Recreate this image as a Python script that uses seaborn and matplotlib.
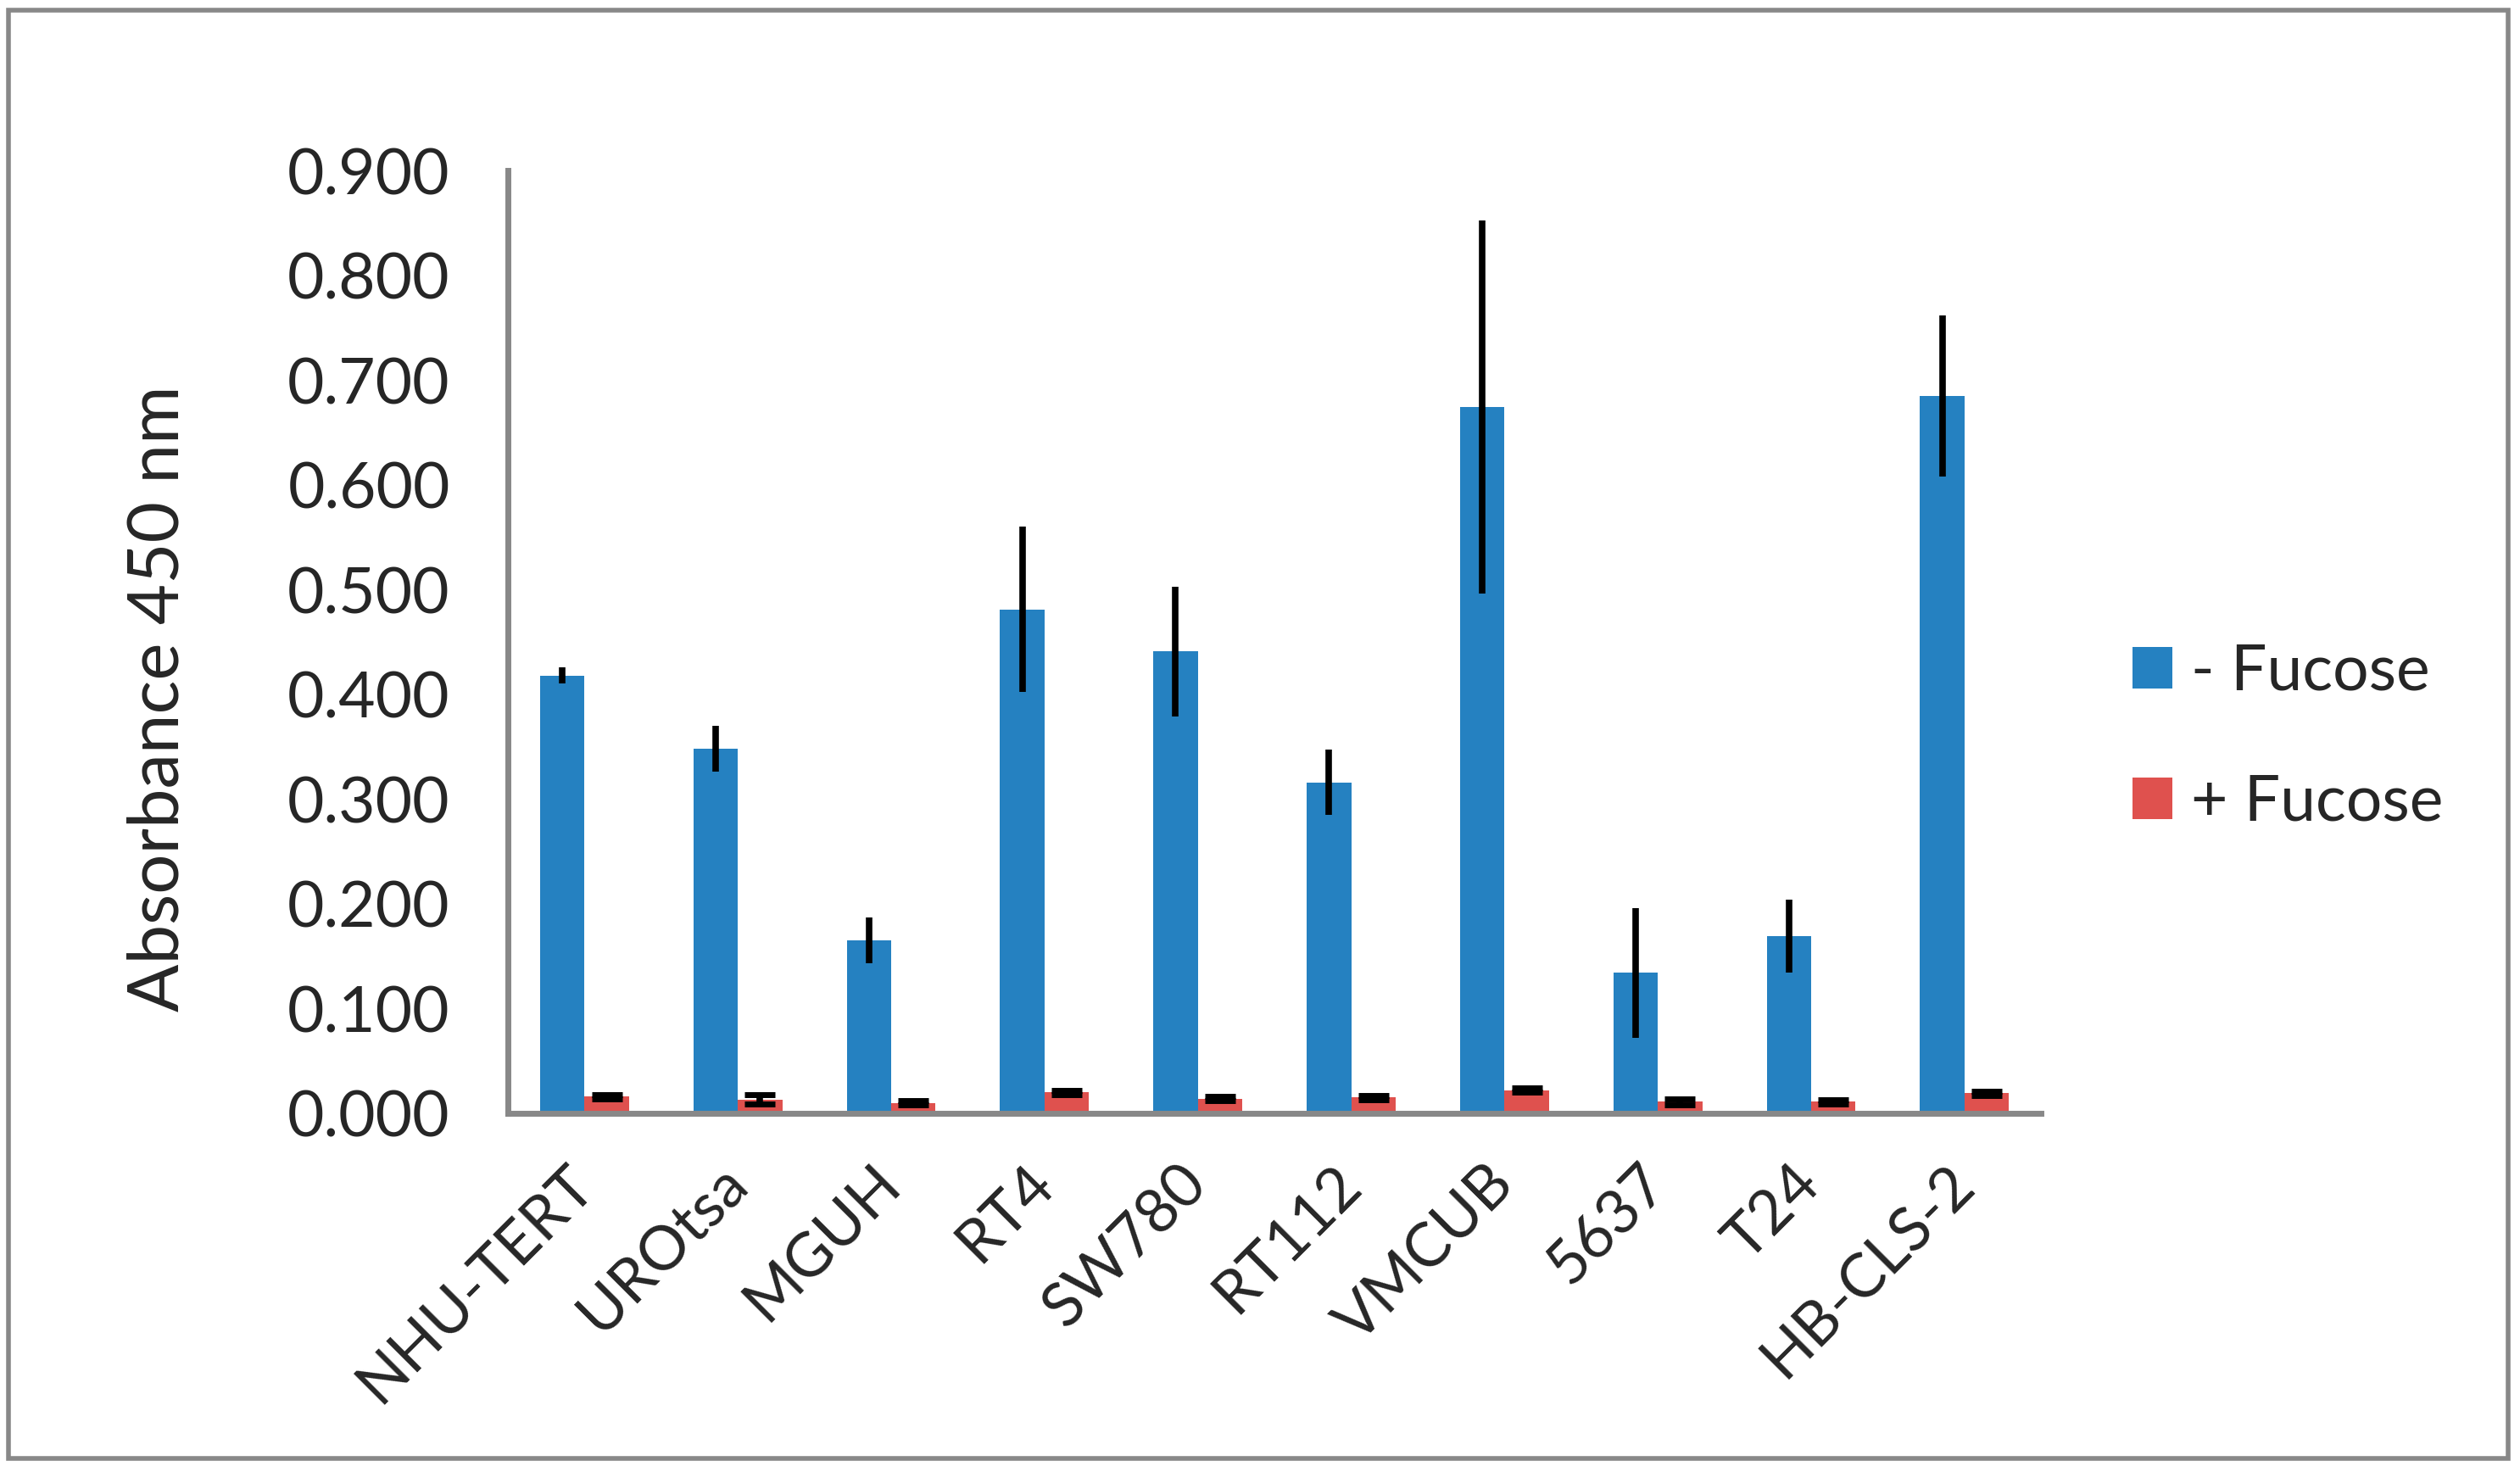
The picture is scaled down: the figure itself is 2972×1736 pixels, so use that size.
import matplotlib
matplotlib.use("Agg")
import matplotlib.pyplot as plt
import matplotlib.patches as mpatches
from matplotlib.container import BarContainer
import numpy as np
import pandas as pd
import seaborn as sns

# values
cells = ['NHU-TERT', 'UROtsa', 'MGUH', 'RT4', 'SW780',
         'RT112', 'VMCUB', '5637', 'T24', 'HB-CLS-2']
minus_fucose = [0.418, 0.348, 0.165, 0.481, 0.441, 0.316, 0.674, 0.134, 0.169, 0.685]
minus_fucose_err = [0.008, 0.022, 0.022, 0.079, 0.062, 0.031, 0.178, 0.062, 0.035, 0.077]
plus_fucose = [0.016, 0.013, 0.010, 0.020, 0.014, 0.015, 0.022, 0.011, 0.011, 0.019]
plus_fucose_err = [0.002, 0.0045, 0.002, 0.002, 0.002, 0.002, 0.002, 0.003, 0.002, 0.002]
conditions = ['- Fucose', '+ Fucose']
yticks = [0.0, 0.1, 0.2, 0.3, 0.4, 0.5, 0.6, 0.7, 0.8, 0.9]

blue = '#2581C1'
red = '#DF514E'
grey = '#888888'

sns.set_style('white')
plt.rcParams['font.family'] = ['Lato', 'DejaVu Sans']
FS = 54

df = pd.DataFrame({
    'cell': cells * 2,
    'value': minus_fucose + plus_fucose,
    'condition': [conditions[0]] * len(cells) + [conditions[1]] * len(cells),
})
errs = [minus_fucose_err, plus_fucose_err]

fig = plt.figure(figsize=(29.72, 17.36), dpi=100)
ax = fig.add_axes([0.2015, 0.2437, 0.6085, 0.6405])

sns.barplot(data=df, x='cell', y='value', hue='condition', order=cells,
            palette=[blue, red], width=0.58, saturation=1, errorbar=None,
            linewidth=0, ax=ax)

# error bars: plain lines on the blue bars, capped on the red ones
bar_sets = [c for c in ax.containers if isinstance(c, BarContainer)]
for i, container in enumerate(bar_sets):
    xs = [b.get_x() + b.get_width() / 2 for b in container]
    hs = [b.get_height() for b in container]
    ax.errorbar(xs, hs, yerr=errs[i], fmt='none', ecolor='black',
                elinewidth=5.5, capsize=(0 if i == 0 else 13), capthick=5,
                zorder=5)

ax.set_xlim(-0.5, len(cells) - 0.5)
ax.set_ylim(0, 0.9)
ax.set_yticks(yticks)
ax.set_yticklabels([f'{v:.3f}' for v in yticks], fontsize=FS)
ax.set_xticks(range(len(cells)))
ax.set_xticklabels(cells, fontsize=52, rotation=45, ha='right', va='center',
                   rotation_mode='anchor')
ax.set_xticks(np.arange(-0.5, len(cells)), minor=True)
ax.tick_params(axis='x', which='major', length=0, pad=52)
ax.tick_params(axis='x', which='minor', length=18, width=5, color=grey,
               direction='out')
ax.tick_params(axis='y', length=19, width=5, color=grey, direction='out',
               pad=30)

for s in ['top', 'right']:
    ax.spines[s].set_visible(False)
for s in ['left', 'bottom']:
    ax.spines[s].set_color(grey)
    ax.spines[s].set_linewidth(5)

ax.set_xlabel('')
ax.set_ylabel('Absorbance 450 nm', fontsize=60, labelpad=82, y=0.44)

handles, labels = ax.get_legend_handles_labels()
ax.legend(handles, labels, loc='upper left', frameon=False, fontsize=FS,
          bbox_to_anchor=(2515 / 2972, 1 - 758 / 1736),
          bbox_transform=fig.transFigure, borderaxespad=0, borderpad=0,
          handlelength=0.62, handleheight=0.62, handletextpad=0.3,
          labelspacing=1.13)

# outer frame of the chart area
fig.patches.append(mpatches.Rectangle((10 / 2972, 16 / 1736), 2948 / 2972,
                                      1708 / 1736, transform=fig.transFigure,
                                      fill=False, edgecolor=grey, linewidth=4))

fig.savefig('out.png', dpi=100)
